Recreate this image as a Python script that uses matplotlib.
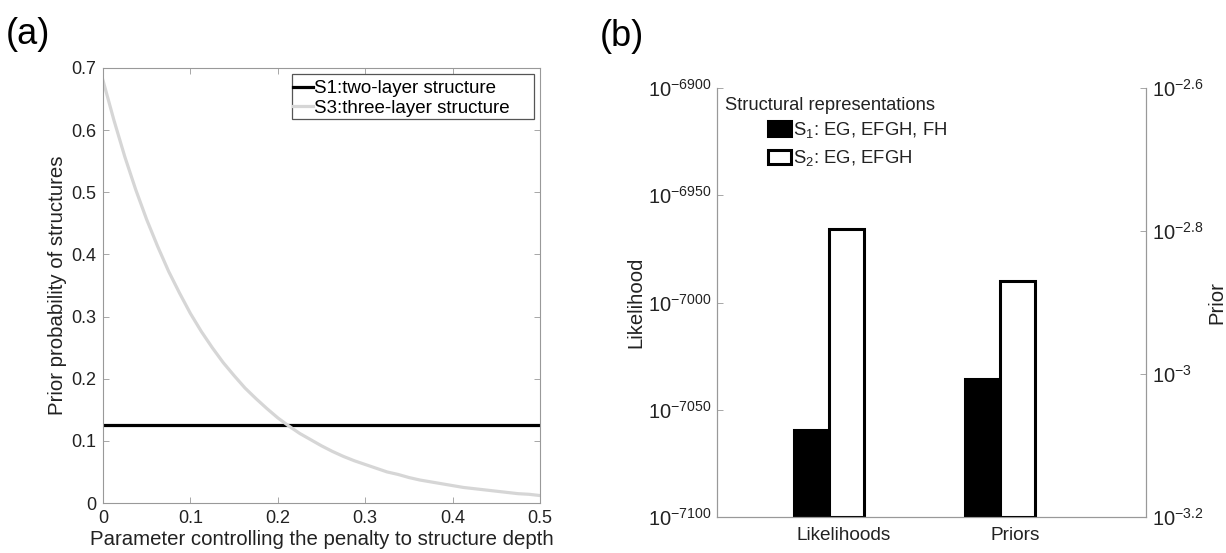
import matplotlib
matplotlib.use("Agg")
import matplotlib.pyplot as plt
from matplotlib.patches import Patch, Rectangle
from matplotlib.transforms import ScaledTranslation

plt.rcParams['font.family'] = ['Liberation Sans', 'DejaVu Sans']
plt.rcParams['mathtext.fontset'] = 'custom'
plt.rcParams['mathtext.rm'] = 'Liberation Sans'
plt.rcParams['mathtext.it'] = 'Liberation Sans'

# ---- Panel (a) data ----
penalty = [0.0, 0.0125, 0.025, 0.0375, 0.05, 0.0625, 0.075, 0.0875, 0.1, 0.1125,
           0.125, 0.1375, 0.15, 0.1625, 0.175, 0.1875, 0.2, 0.2125, 0.225, 0.2375,
           0.25, 0.2625, 0.275, 0.2875, 0.3, 0.3125, 0.325, 0.3375, 0.35, 0.3625,
           0.375, 0.3875, 0.4, 0.4125, 0.425, 0.4375, 0.45, 0.4625, 0.475, 0.4875, 0.5]
s1_prior = [0.125] * len(penalty)
s3_prior = [0.680, 0.616, 0.557, 0.504, 0.456, 0.413, 0.373, 0.338, 0.305, 0.276,
            0.250, 0.226, 0.205, 0.185, 0.168, 0.152, 0.137, 0.124, 0.112, 0.102,
            0.092, 0.083, 0.075, 0.068, 0.062, 0.056, 0.050, 0.046, 0.041, 0.037,
            0.034, 0.031, 0.028, 0.025, 0.023, 0.021, 0.019, 0.017, 0.015, 0.014, 0.012]
a_xticks = [0, 0.1, 0.2, 0.3, 0.4, 0.5]
a_xtick_text = ['0', '0.1', '0.2', '0.3', '0.4', '0.5']
a_yticks = [0, 0.1, 0.2, 0.3, 0.4, 0.5, 0.6, 0.7]
a_ytick_text = ['0', '0.1', '0.2', '0.3', '0.4', '0.5', '0.6', '0.7']
a_labels = ['S1:two-layer structure', 'S3:three-layer structure']

# ---- Panel (b) data (log10 values) ----
b_categories = ['Likelihoods', 'Priors']
likelihood_log10 = [-7059.4, -6965.7]   # S1, S2
prior_log10 = [-3.007, -2.870]          # S1, S2
lik_ticks = [-7100, -7050, -7000, -6950, -6900]
prior_ticks = [-3.2, -3.0, -2.8, -2.6]
prior_tick_text = ['-3.2', '-3', '-2.8', '-2.6']
series_labels = ['S$_1$: EG, EFGH, FH', 'S$_2$: EG, EFGH']

W, H = 1226, 553
fig = plt.figure(figsize=(W / 100, H / 100), dpi=100)

spine_col = '#999999'
text_col = '#222222'

# ================= Panel (a) =================
axa = fig.add_axes([103 / W, 1 - 503 / H, 437 / W, 435 / H])
axa.plot(penalty, s1_prior, color='black', lw=2.3, label=a_labels[0])
axa.plot(penalty, s3_prior, color='#d6d6d6', lw=2.3, label=a_labels[1])
axa.set_xlim(0, 0.5)
axa.set_ylim(0, 0.7)
axa.set_xticks(a_xticks)
axa.set_xticklabels(a_xtick_text)
axa.set_yticks(a_yticks)
axa.set_yticklabels(a_ytick_text)
axa.tick_params(direction='in', length=4, width=0.6, color=spine_col,
                labelsize=13, labelcolor=text_col, top=True, right=True, pad=5)
for s in axa.spines.values():
    s.set_color(spine_col)
    s.set_linewidth(0.8)
axa.set_xlabel('Parameter controlling the penalty to structure depth',
               fontsize=14.7, color=text_col, labelpad=2)
axa.set_ylabel('Prior probability of structures', fontsize=14.7, color=text_col, labelpad=3)
leg = axa.legend(loc='upper left', bbox_to_anchor=(0.434, 0.972), fontsize=13.5,
                 frameon=False, handlelength=1.1, handletextpad=0.05, borderpad=0,
                 labelspacing=0.12, borderaxespad=0)
axa.add_patch(Rectangle((0.4325, 0.8828), 0.5538, 0.1034, transform=axa.transAxes,
                        fill=False, edgecolor='#555555', lw=0.9, zorder=5))
fig.text(6 / W, 1 - 34 / H, '(a)', fontsize=26, va='center', ha='left')

# ================= Panel (b) =================
axb = fig.add_axes([717 / W, 1 - 517 / H, 429 / W, 429 / H])
axb2 = axb.twinx()
bw = 0.205
xpos = [0, 1]
lik_base = lik_ticks[0]
pri_base = prior_ticks[0]
axb.bar([xpos[0] - bw / 2], [likelihood_log10[0] - lik_base], bottom=lik_base, width=bw,
        color='black', edgecolor='black', lw=2.2)
axb.bar([xpos[0] + bw / 2], [likelihood_log10[1] - lik_base], bottom=lik_base, width=bw,
        color='white', edgecolor='black', lw=2.2)
axb2.bar([xpos[1] - bw / 2], [prior_log10[0] - pri_base], bottom=pri_base, width=bw,
         color='black', edgecolor='black', lw=2.2)
axb2.bar([xpos[1] + bw / 2], [prior_log10[1] - pri_base], bottom=pri_base, width=bw,
         color='white', edgecolor='black', lw=2.2)
axb.set_xlim(-0.655, 1.854)
axb.set_ylim(lik_ticks[0], lik_ticks[-1])
axb2.set_ylim(prior_ticks[0], prior_ticks[-1])
axb.set_yticks(lik_ticks)
axb.set_yticklabels([r'10$^{%d}$' % t for t in lik_ticks])
axb2.set_yticks(prior_ticks)
axb2.set_yticklabels([r'10$^{%s}$' % t for t in prior_tick_text])
axb.set_xticks(xpos)
axb.set_xticklabels(b_categories)
for ax in (axb, axb2):
    ax.spines['top'].set_visible(False)
    for s in ax.spines.values():
        s.set_color(spine_col)
        s.set_linewidth(0.8)
    ax.tick_params(axis='y', direction='in', length=4, width=0.6, color=spine_col,
                   labelsize=14.5, labelcolor=text_col, pad=4)
axb.tick_params(axis='x', length=0, labelsize=13.7, labelcolor=text_col, pad=7)
shift = ScaledTranslation(15 / 100, 0, fig.dpi_scale_trans)
for lab in axb.get_xticklabels():
    lab.set_transform(lab.get_transform() + shift)
axb.set_ylabel('Likelihood', fontsize=14.6, color=text_col, labelpad=2)
axb2.set_ylabel('Prior', fontsize=14.6, color=text_col, labelpad=3)

handles = [Patch(facecolor='black', edgecolor='black', lw=2.2),
           Patch(facecolor='white', edgecolor='black', lw=2.2)]
fig.text(725 / W, 1 - 106 / H, 'Structural representations', fontsize=13.2,
         color=text_col, va='center', ha='left')
legb = fig.legend(handles, series_labels, loc='upper left',
                  bbox_to_anchor=(768 / W, 1 - 120 / H), frameon=False, fontsize=13.3,
                  handlelength=1.25, handleheight=0.85, handletextpad=0.1,
                  labelspacing=0.45, borderpad=0, borderaxespad=0)
for t in legb.get_texts():
    t.set_color(text_col)
fig.text(600 / W, 1 - 37 / H, '(b)', fontsize=26, va='center', ha='left')

fig.savefig('out.png', dpi=100)
